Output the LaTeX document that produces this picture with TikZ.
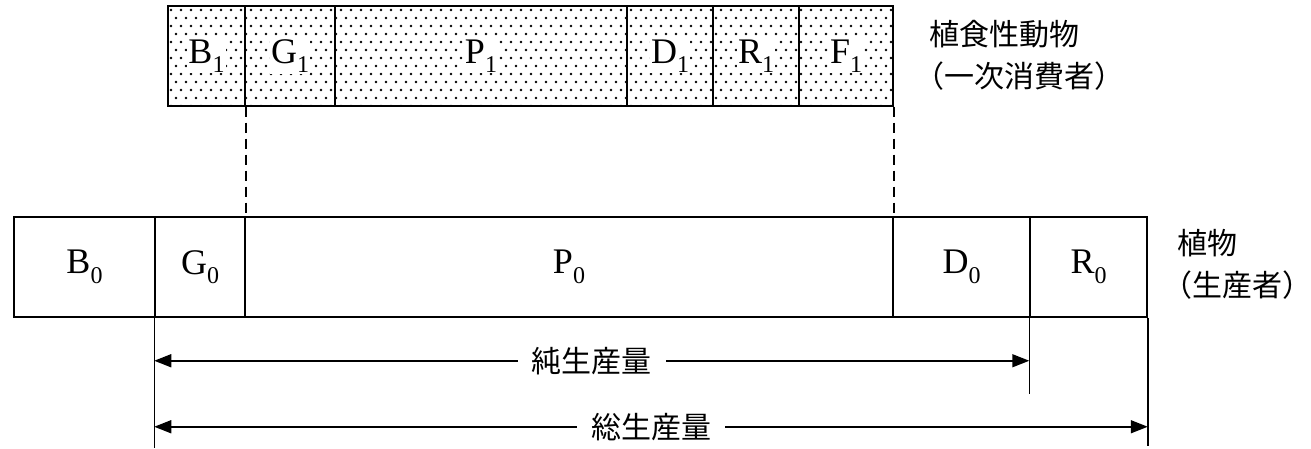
\documentclass[tikz,border=0pt]{standalone}
\usepackage{fontspec}
\setmainfont{Liberation Serif}
\newfontfamily\jpfont{Noto Sans CJK JP}
\usetikzlibrary{arrows.meta,calc}
\newcommand\lblsub[2]{\colorbox{white}{#1\raisebox{-0.26em}{\fontsize{24}{24}\selectfont #2}}}
\tikzset{
  box/.style={draw, line width=1.5pt, minimum height=100pt, inner sep=0pt},
  rule/.style={line width=1.5pt},
  arr/.style={line width=1.5pt, {Triangle[length=17pt,width=13pt]}-{Triangle[length=17pt,width=13pt]}},
  lbl/.style={fill=white, font=\jpfont\fontsize{30}{36}\selectfont, inner xsep=14pt, inner ysep=0pt},
  side/.style={font=\jpfont\fontsize{30}{42}\selectfont, align=left, inner sep=0pt, anchor=west}
}
\begin{document}
\begin{tikzpicture}[x=1pt,y=-1pt,font=\fontsize{36}{40}\selectfont]
\useasboundingbox (0,0) rectangle (1311,449);
\setlength{\fboxsep}{1pt}
% stipple of the top row
\begin{scope}
  \clip (168,6) rectangle (893,106);
  \foreach \j in {0,...,12} {
    \foreach \i in {0,...,73} {
      \fill ({171+\i*10+5*mod(\j,2)},{10+\j*8}) circle[radius=1.3pt];
    }
  }
\end{scope}
% herbivore row
\node[box, minimum width=77pt]  (B1) at (206.5,56) {\lblsub{B}{1}};
\node[box, minimum width=90pt]  (G1) at (290,56)   {\lblsub{G}{1}};
\node[box, minimum width=292pt] (P1) at (481,56)   {\lblsub{P}{1}};
\node[box, minimum width=86pt]  (D1) at (670,56)   {\lblsub{D}{1}};
\node[box, minimum width=86pt]  (R1) at (756,56)   {\lblsub{R}{1}};
\node[box, minimum width=94pt]  (F1) at (846,56)   {\lblsub{F}{1}};
% plant row
\node[box, minimum width=141pt] (B0) at (84.5,267)  {\lblsub{B}{0}};
\node[box, minimum width=90pt]  (G0) at (200,267)   {\lblsub{G}{0}};
\node[box, minimum width=648pt] (P0) at (569,267)   {\lblsub{P}{0}};
\node[box, minimum width=137pt] (D0) at (961.5,267) {\lblsub{D}{0}};
\node[box, minimum width=117pt] (R0) at (1088.5,267){\lblsub{R}{0}};
% side labels
\node[side] (herb) at (929,55) {植食性動物\\\kern-0.5em（一次消費者）\kern-0.5em};
\node[side] (plant) at (1177,264) {植物\\\kern-0.5em（生産者）\kern-0.5em};
% dashed connections
\draw[rule, dash pattern=on 10pt off 6pt] (B1.south east) -- (G0.north east);
\draw[rule, dash pattern=on 10pt off 6pt] (F1.south east) -- (P0.north east);
% vertical extension lines
\draw[rule] (G0.south west) -- ++(0,130);
\draw[rule] (R0.south west) -- ++(0,76);
\draw[rule] (R0.south east) -- ++(0,128);
% arrows
\coordinate (nl) at ($(G0.south west)+(0,43)$);
\coordinate (nr) at ($(R0.south west)+(0,43)$);
\coordinate (tl) at ($(G0.south west)+(0,109)$);
\coordinate (tr) at ($(R0.south east)+(0,109)$);
\draw[arr] (nl) -- node[lbl] (net) {純生産量} (nr);
\draw[arr] (tl) -- node[lbl] (gross) {総生産量} (tr);
\end{tikzpicture}
\end{document}
